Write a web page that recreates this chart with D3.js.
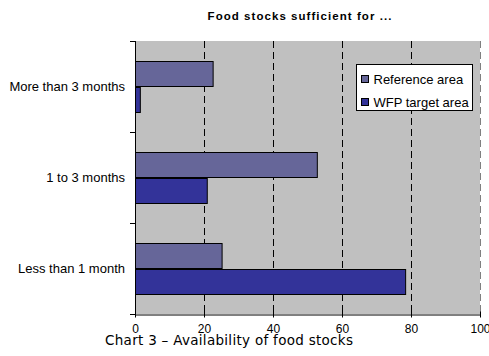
<!DOCTYPE html>
<html>
<head>
<meta charset="utf-8">
<script src="https://cdn.jsdelivr.net/npm/d3@7"></script>
<style>
  html, body { margin: 0; padding: 0; background: #fff; }
  svg { display: block; font-family: "Liberation Sans", Arial, sans-serif; }
</style>
</head>
<body>
<svg id="chart" width="489" height="356"></svg>
<script>
// Duration of household food stocks, percentage of households
const categories = ["More than 3 months", "1 to 3 months", "Less than 1 month"];
const seriesNames = ["Reference area", "WFP target area"];
const referenceArea = [22.5, 52.7, 25.1];
const wfpTargetArea = [1.4, 20.8, 78.3];
const xTicks = [0, 20, 40, 60, 80, 100];

const seriesValues = [referenceArea, wfpTargetArea];
const colors = ["#666699", "#333399"];

const svg = d3.select("#chart");
const plotLeft = 135, plotRight = 480, plotTop = 41, plotBottom = 314;

const x = d3.scaleLinear().domain([0, 100]).range([plotLeft, plotRight]);
const y = d3.scaleBand().domain(categories).range([plotTop, plotBottom]);
const ySub = d3.scaleBand().domain(seriesNames)
  .range([0, y.bandwidth()]).paddingInner(0).paddingOuter(0.785);

// plot area background
svg.append("rect")
  .attr("x", plotLeft).attr("y", plotTop)
  .attr("width", plotRight - plotLeft).attr("height", plotBottom - plotTop)
  .attr("fill", "#c0c0c0");

// dashed vertical gridlines
svg.append("g").selectAll("line")
  .data(xTicks.filter(d => d > 0))
  .join("line")
  .attr("x1", d => Math.round(x(d)) + 0.5).attr("x2", d => Math.round(x(d)) + 0.5)
  .attr("y1", plotTop).attr("y2", plotBottom)
  .attr("stroke", d => d === 100 ? "#808080" : "#000")
  .attr("stroke-width", 1)
  .attr("stroke-dasharray", "7,4");

// bars
const rows = categories.map((c, i) => ({
  category: c,
  values: seriesNames.map((s, j) => ({ series: s, value: seriesValues[j][i], color: colors[j] }))
}));

const groups = svg.append("g").selectAll("g")
  .data(rows)
  .join("g")
  .attr("transform", d => `translate(0,${y(d.category)})`);

groups.selectAll("rect")
  .data(d => d.values)
  .join("rect")
  .attr("x", x(0) + 0.5)
  .attr("y", d => Math.round(ySub(d.series)) + 0.5)
  .attr("width", d => x(d.value) - x(0))
  .attr("height", Math.round(ySub.bandwidth()))
  .attr("fill", d => d.color)
  .attr("stroke", "#000")
  .attr("stroke-width", 1);

// x axis
const xAxis = svg.append("g")
  .attr("transform", `translate(0,${plotBottom + 0.5})`)
  .call(d3.axisBottom(x).tickValues(xTicks).tickSize(3).tickPadding(7).tickSizeOuter(0));
xAxis.select(".domain").attr("stroke", "#000");
xAxis.selectAll(".tick line").attr("stroke", "#000").attr("y1", -3).attr("y2", 3);
xAxis.selectAll(".tick text")
  .attr("font-size", 12).attr("font-family", "Liberation Sans, Arial, sans-serif")
  .attr("fill", "#000");

// y axis with ticks at band boundaries
svg.append("line")
  .attr("x1", plotLeft + 0.5).attr("x2", plotLeft + 0.5)
  .attr("y1", plotTop).attr("y2", plotBottom + 1)
  .attr("stroke", "#000");
const bounds = categories.map(c => y(c)).concat([plotBottom]);
svg.append("g").selectAll("line")
  .data(bounds)
  .join("line")
  .attr("x1", plotLeft - 5).attr("x2", plotLeft)
  .attr("y1", d => Math.round(d) + 0.5).attr("y2", d => Math.round(d) + 0.5)
  .attr("stroke", "#000");

svg.append("g").selectAll("text")
  .data(categories)
  .join("text")
  .attr("x", 125)
  .attr("y", d => y(d) + y.bandwidth() / 2)
  .attr("dy", "0.35em")
  .attr("text-anchor", "end")
  .attr("font-size", 13)
  .attr("fill", "#000")
  .text(d => d);

// title
svg.append("text")
  .attr("x", 300).attr("y", 20)
  .attr("text-anchor", "middle")
  .attr("font-size", 11.5)
  .attr("font-weight", "bold")
  .attr("letter-spacing", 1.05)
  .attr("fill", "#000")
  .text("Food stocks sufficient for ...");

// legend
const legend = svg.append("g").attr("transform", "translate(356.5,64.5)");
legend.append("rect")
  .attr("width", 116).attr("height", 46)
  .attr("fill", "#fff").attr("stroke", "#000");
const items = legend.selectAll("g.item")
  .data(seriesNames)
  .join("g")
  .attr("class", "item")
  .attr("transform", (d, i) => `translate(5,${11 + i * 23})`);
items.append("rect")
  .attr("width", 7).attr("height", 7)
  .attr("fill", (d, i) => colors[i]).attr("stroke", "#000");
items.append("text")
  .attr("x", 12).attr("y", 4)
  .attr("dy", "0.35em")
  .attr("font-size", 13)
  .attr("fill", "#000")
  .text(d => d);

// caption
svg.append("text")
  .attr("x", 105).attr("y", 345)
  .attr("font-size", 13.5)
  .attr("font-family", "DejaVu Sans, sans-serif")
  .attr("textLength", 248)
  .attr("lengthAdjust", "spacing")
  .attr("fill", "#000")
  .text("Chart 3 \u2013 Availability of food stocks");
</script>
</body>
</html>
